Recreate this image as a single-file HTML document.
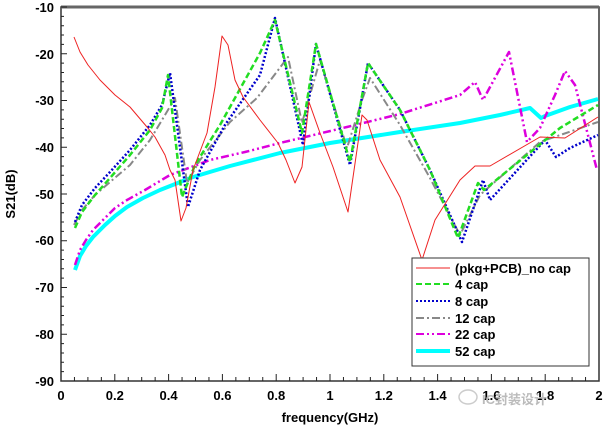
<!DOCTYPE html><html><head><style>body{margin:0;background:#fff}svg{display:block}text{font-family:"Liberation Sans",sans-serif;font-weight:bold;font-size:13px}</style></head><body>
<svg width="606" height="428" xmlns="http://www.w3.org/2000/svg">
<rect x="61" y="7" width="538" height="374" fill="none" stroke="#333" stroke-width="1.5"/>
<line x1="61" y1="7" x2="599" y2="7" stroke="#666" stroke-width="3"/>
<g stroke="#222" stroke-width="1">
<path d="M61,7h6M61,53.75h6M61,100.5h6M61,147.25h6M61,194h6M61,240.75h6M61,287.5h6M61,334.25h6"/>
<path d="M61,16.35h3M61,25.7h3M61,35.05h3M61,44.4h3M61,63.1h3M61,72.45h3M61,81.8h3M61,91.15h3M61,109.85h3M61,119.2h3M61,128.55h3M61,137.9h3M61,156.6h3M61,165.95h3M61,175.3h3M61,184.65h3M61,203.35h3M61,212.7h3M61,222.05h3M61,231.4h3M61,250.1h3M61,259.45h3M61,268.8h3M61,278.15h3M61,296.85h3M61,306.2h3M61,315.55h3M61,324.9h3M61,343.6h3M61,352.95h3M61,362.3h3M61,371.65h3"/>
<path d="M114.8,381v-7M168.6,381v-7M222.4,381v-7M276.2,381v-7M330,381v-7M383.8,381v-7M437.6,381v-7M491.4,381v-7M545.2,381v-7"/>
<path d="M74.45,381v-4M87.9,381v-4M101.35,381v-4M128.25,381v-4M141.7,381v-4M155.15,381v-4M182.05,381v-4M195.5,381v-4M208.95,381v-4M235.85,381v-4M249.3,381v-4M262.75,381v-4M289.65,381v-4M303.1,381v-4M316.55,381v-4M343.45,381v-4M356.9,381v-4M370.35,381v-4M397.25,381v-4M410.7,381v-4M424.15,381v-4M451.05,381v-4M464.5,381v-4M477.95,381v-4M504.85,381v-4M518.3,381v-4M531.75,381v-4M558.65,381v-4M572.1,381v-4M585.55,381v-4"/>
</g>
<g text-anchor="end"><text x="54" y="12">-10</text><text x="54" y="59">-20</text><text x="54" y="105">-30</text><text x="54" y="152">-40</text><text x="54" y="199">-50</text><text x="54" y="245">-60</text><text x="54" y="292">-70</text><text x="54" y="339">-80</text><text x="54" y="386">-90</text></g>
<g text-anchor="middle"><text x="61" y="400">0</text><text x="114.8" y="400">0.2</text><text x="168.6" y="400">0.4</text><text x="222.4" y="400">0.6</text><text x="276.2" y="400">0.8</text><text x="330" y="400">1</text><text x="383.8" y="400">1.2</text><text x="437.6" y="400">1.4</text><text x="491.4" y="400">1.6</text><text x="545.2" y="400">1.8</text><text x="599" y="400">2</text></g>
<text x="330" y="422" text-anchor="middle" font-size="14">frequency(GHz)</text>
<text transform="translate(15,194) rotate(-90)" text-anchor="middle" font-size="14">S21(dB)</text>
<g fill="none" stroke-linejoin="round">
<polyline stroke="#0ff" stroke-width="4" points="75,270 80,256 86,246 93,237 105,225 115,216 127,207 143,198 160,190 193,177 230,166 280,153 330,143 400,132 460,123 500,115 530,108 541,118 545,116 570,107 598,99"/>
<polyline stroke="#d0d" stroke-width="2.5" stroke-dasharray="8,3,2,3,2,3" points="75,265 80,250 86,240 93,230 105,218 115,208 127,200 145,190 170,175 210,160 245,152 280,143 347,127 400,114 460,95 475,82 483,100 509,52 527,142 540,128 555,95 565,71 575,85 597,170"/>
<polyline stroke="#888" stroke-width="2" stroke-dasharray="8,3,2,3" points="74,225 82,210 95,195 110,182 130,165 150,140 165,115 175,98 187,183 200,160 230,122 257,98 288,57 302,123 320,60 347,148 362,100 370,78 400,125 430,178 460,235 480,195 540,142 598,122"/>
<polyline stroke="#00c" stroke-width="2.5" stroke-dasharray="2,2" points="75,222 82,205 95,188 110,172 130,150 150,125 162,105 170,73 188,207 200,170 225,125 260,75 275,18 303,145 316,44 350,165 368,63 400,110 430,170 462,242 483,180 490,200 545,140 556,157 570,148 598,135"/>
<polyline stroke="#2d2" stroke-width="2.5" stroke-dasharray="6,3" points="75,228 82,212 95,195 110,178 130,155 150,130 162,108 168,75 182,197 195,165 220,125 260,53 275,20 302,133 316,44 350,162 368,63 400,110 430,170 458,238 478,183 484,190 560,128 598,105"/>
<polyline stroke="#e22" stroke-width="1" points="74,37 80,52 88,65 100,80 115,95 130,107 147,127 155,137 165,155 170,170 175,180 181,221 186,208 193,170 207,133 215,87 222,36 228,45 235,80 243,97 260,120 278,143 286,160 295,183 302,167 309,102 320,133 333,167 348,212 362,115 367,120 380,160 400,197 422,260 435,220 460,180 475,166 490,166 540,137 565,138 598,117"/>
</g>
<rect x="412" y="258" width="177" height="108" fill="#fff" stroke="#333"/>
<g stroke-width="2" fill="none">
<line x1="416" y1="268" x2="450" y2="268" stroke="#e22" stroke-width="1"/>
<line x1="416" y1="284" x2="450" y2="284" stroke="#2d2" stroke-dasharray="6,3"/>
<line x1="416" y1="301" x2="450" y2="301" stroke="#00c" stroke-dasharray="2,2"/>
<line x1="416" y1="318" x2="450" y2="318" stroke="#888" stroke-dasharray="8,3,2,3"/>
<line x1="416" y1="334" x2="450" y2="334" stroke="#d0d" stroke-dasharray="8,3,2,3,2,3"/>
<line x1="416" y1="351" x2="450" y2="351" stroke="#0ff" stroke-width="4"/>
</g>
<g font-size="12.5"><text x="455" y="273">(pkg+PCB)_no cap</text><text x="455" y="289">4 cap</text><text x="455" y="306">8 cap</text><text x="455" y="323">12 cap</text><text x="455" y="339">22 cap</text><text x="455" y="356">52 cap</text></g>
<ellipse cx="468" cy="397" rx="9" ry="7" fill="none" stroke="#ccc" stroke-width="1.5"/>
<text x="482" y="404" fill="#bbb" font-weight="normal" font-size="18" style="font-family:'Liberation Sans','Noto Sans CJK SC',sans-serif">IC封装设计</text>
</svg></body></html>
